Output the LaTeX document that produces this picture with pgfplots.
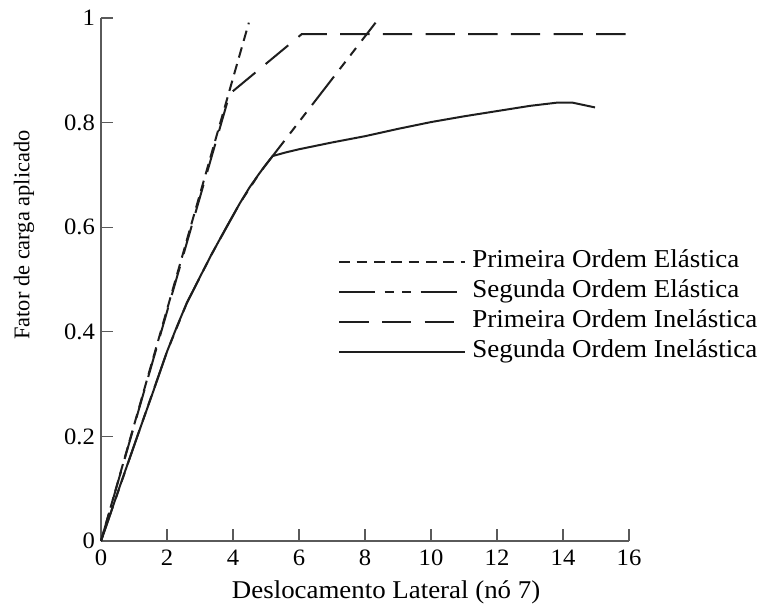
\documentclass[border=0pt]{standalone}
\usepackage{pgfplots}
\pgfplotsset{compat=1.18}
\usepackage{fontspec}
\setmainfont{Liberation Serif}[FakeStretch=1.05]
\newfontfamily\plainserif{Liberation Serif}

\definecolor{ink}{HTML}{1E1E1E}
\definecolor{axisgray}{HTML}{5A5A5A}

\begin{document}
\begin{tikzpicture}
\begin{axis}[
    scale only axis,
    width=396pt, height=392.25pt,
    xmin=0, xmax=16,
    ymin=0, ymax=1,
    axis x line*=bottom,
    axis y line*=left,
    xtick pos=bottom, ytick pos=left,
    axis line style={-, axisgray, line width=1.2pt},
    tick align=inside,
    major tick style={axisgray, line width=0.9pt},
    major tick length=9pt,
    xtick={0,2,...,16},
    ytick={0,0.2,0.4,0.6,0.8,1},
    yticklabels={0,0.2,0.4,0.6,0.8,1},
    /pgf/number format/assume math mode=true,
    tick label style={font=\fontsize{17.6}{20}\selectfont},
    xticklabel style={yshift=-3pt},
    yticklabel style={xshift=-1pt},
    xlabel={Deslocamento Lateral (nó 7)},
    xlabel style={font=\fontsize{19.2}{22}\selectfont, at={(rel axis cs:0.54,-0.0975)}, anchor=center},
    ylabel={Fator de carga aplicado},
    ylabel style={font=\plainserif\fontsize{16.8}{20}\selectfont, at={(rel axis cs:-0.146,0.585)}, anchor=center, rotate=0},
    legend image code/.code={\draw[#1] (0pt,0pt) -- (94pt,0pt);},
    legend cell align=left,
    legend style={
        draw=none, fill=none,
        at={(rel axis cs:0.449,0.556)}, anchor=north west,
        inner xsep=0pt, inner ysep=0pt,
        row sep=5.5pt,
        nodes={inner sep=0pt, text height=13pt, text depth=4pt},
        font=\fontsize{19.3}{22}\selectfont,
        /tikz/every odd column/.style={column sep=5pt},
    },
    every axis plot/.append style={ink, line width=1.5pt},
    clip=false,
]
% Primeira Ordem Elastica
\addplot[dash pattern=on 8pt off 5pt] coordinates {
    (0,0) (4.48,0.991)
};
\addlegendentry{Primeira Ordem Elástica}
% Segunda Ordem Elastica
\addplot[dash pattern=on 27pt off 7pt on 7pt off 6pt on 7pt off 7pt] coordinates {
    (0,0) (1.1,0.2) (2.0,0.362) (2.6,0.455) (3.35,0.548) (4.21,0.646) (4.8,0.703) (5.2,0.736) (8.32,0.991)
};
\addlegendentry{Segunda Ordem Elástica}
% Primeira Ordem Inelastica
\addplot[dash pattern=on 22pt off 10pt] coordinates {
    (0,0) (3.9,0.855) (6.08,0.969) (16,0.969)
};
\addlegendentry{Primeira Ordem Inelástica}
% Segunda Ordem Inelastica
\addplot[solid] coordinates {
    (0,0) (0.6,0.11) (1.1,0.2) (1.6,0.289) (2.0,0.362) (2.3,0.41) (2.6,0.455)
    (3.0,0.505) (3.35,0.548) (3.8,0.6) (4.21,0.646) (4.5,0.676) (4.8,0.703)
    (5.0,0.72) (5.2,0.736)
    (5.6,0.743) (6,0.749) (7,0.762) (8,0.774) (9,0.788) (10,0.801) (11,0.812)
    (12,0.822) (13,0.832) (13.8,0.838) (14.3,0.838) (14.97,0.829)
};
\addlegendentry{Segunda Ordem Inelástica}
\end{axis}
\path (-75.75pt,-51.75pt) rectangle (498.75pt,405.75pt);
\end{tikzpicture}
\end{document}
